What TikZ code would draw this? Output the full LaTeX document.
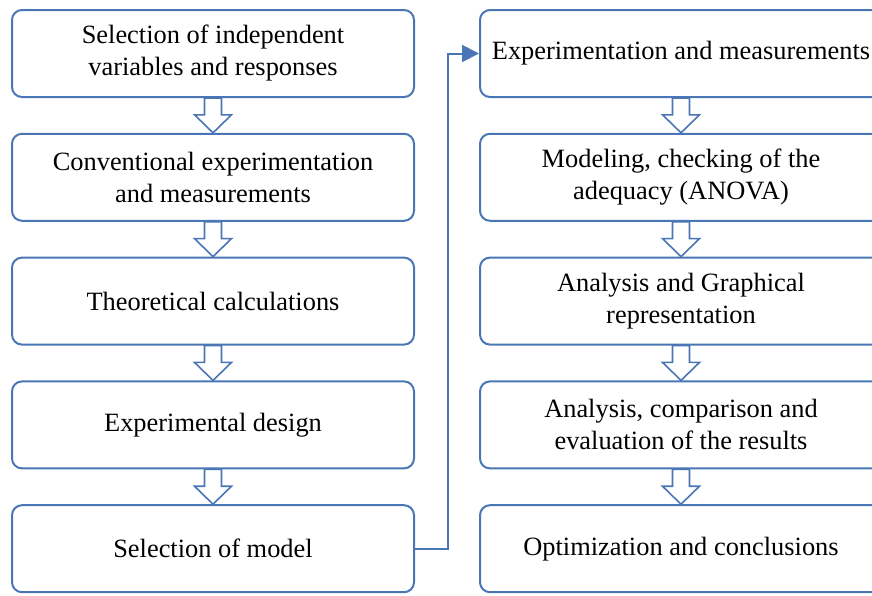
\documentclass[tikz,border=0pt]{standalone}
\usepackage{fontspec}
\setmainfont{Liberation Serif}
\usetikzlibrary{positioning,arrows.meta}
\definecolor{flowblue}{HTML}{4A76B5}
\tikzstyle{flow boxes}=[
    x=0.5pt,y=-0.5pt,node distance=17.4pt and 32pt,
    every node/.style={font=\fontsize{13.2}{16}\selectfont},
    box/.style={draw=flowblue,line width=1pt,rounded corners=5pt,
        minimum width=201pt,minimum height=43.5pt,align=center,inner sep=0pt},
]
\tikzstyle{hollow arrow}=[draw=flowblue,fill=white,line width=0.8pt,line join=miter]
\tikzstyle{link}=[draw=flowblue,line width=1pt,-{Triangle[length=8.5pt,width=8.5pt]}]
\newcommand{\blockdown}[2]{%
    \draw[hollow arrow] ([xshift=-4.25pt]#1.south) -- ([xshift=-4.25pt,yshift=9pt]#2.north)
        -- ++(-5pt,0) -- (#2.north) -- ([xshift=9.25pt,yshift=9pt]#2.north)
        -- ++(-5pt,0) -- ([xshift=4.25pt]#1.south) -- cycle;}

\begin{document}
\begin{tikzpicture}[flow boxes]
    \useasboundingbox (0,0) rectangle (872,595);
    % left column
    \node[box] (l1) at (213,53.5) {Selection of independent\\variables and responses};
    \node[box, below=of l1] (l2) {Conventional experimentation\\and measurements};
    \node[box, below=of l2] (l3) {Theoretical calculations};
    \node[box, below=of l3] (l4) {Experimental design};
    \node[box, below=of l4] (l5) {Selection of model};
    % right column
    \node[box, right=of l1] (r1) {Experimentation and measurements};
    \node[box, below=of r1] (r2) {Modeling, checking of the\\adequacy (ANOVA)};
    \node[box, below=of r2] (r3) {Analysis and Graphical\\representation};
    \node[box, below=of r3] (r4) {Analysis, comparison and\\evaluation of the results};
    \node[box, below=of r4] (r5) {Optimization and conclusions};

    \blockdown{l1}{l2}
    \blockdown{l2}{l3}
    \blockdown{l3}{l4}
    \blockdown{l4}{l5}
    \blockdown{r1}{r2}
    \blockdown{r2}{r3}
    \blockdown{r3}{r4}
    \blockdown{r4}{r5}

    \draw[link] (l5.east) -- ++(33,0) |- (r1.west);
\end{tikzpicture}
\end{document}
